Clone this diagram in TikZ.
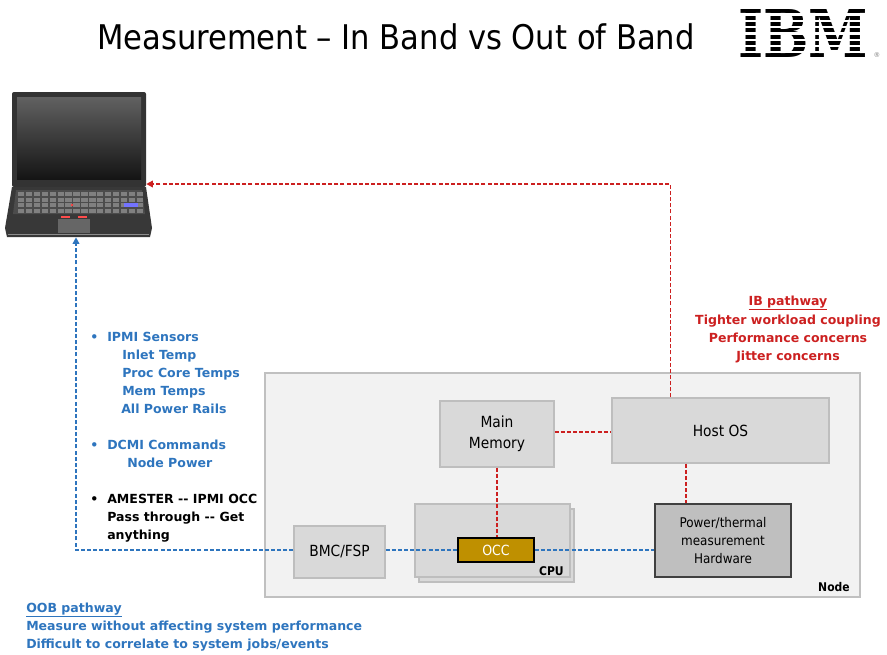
\documentclass[tikz,border=0pt]{standalone}
\usepackage{fontspec}
\setmainfont{DejaVu Sans}
\newfontfamily\narrowfont{DejaVu Sans Condensed}
\newfontfamily\logofont{DejaVu Serif}
\usetikzlibrary{arrows.meta,calc}

\definecolor{oobblue}{RGB}{46,117,190}
\definecolor{ibred}{RGB}{204,32,32}
\definecolor{nodefill}{RGB}{242,242,242}
\definecolor{nodeline}{RGB}{192,192,192}
\definecolor{boxfill}{RGB}{217,217,217}
\definecolor{boxline}{RGB}{190,190,190}
\definecolor{occfill}{RGB}{191,144,0}

\begin{document}
\begin{tikzpicture}[x=0.75pt,y=-0.75pt,
    box/.style={draw=boxline, fill=boxfill, line width=0.9pt, align=center,
      inner sep=0pt, font=\narrowfont\fontsize{11.5}{15.5}\selectfont},
    ibline/.style={draw=ibred, line width=1.1pt, dash pattern=on 3pt off 1.6pt},
    oobline/.style={draw=oobblue, line width=1.1pt, dash pattern=on 3pt off 1.6pt},
    oobtext/.style={text=oobblue, anchor=base west, inner sep=0pt,
      font=\bfseries\fontsize{9.4}{11}\selectfont},
    amtext/.style={oobtext, text=black},
    ibtext/.style={text=ibred, anchor=base, inner sep=0pt,
      font=\bfseries\fontsize{9.4}{11}\selectfont},
    tag/.style={anchor=base east, inner sep=0pt, font=\narrowfont\bfseries\fontsize{9}{11}\selectfont}
  ]
  \useasboundingbox (0,0) rectangle (887,654);

  % title and logo
  \node[anchor=base, inner sep=0pt, font=\narrowfont\fontsize{25.5}{30}\selectfont] (title) at (396,49)
    {Measurement \textendash{} In Band vs Out of Band};
  \node[anchor=south west, inner sep=0pt] (ibm) at (738,58)
    {\resizebox{97.5pt}{36pt}{\logofont\bfseries IBM}};
  \foreach \k in {0,...,6}
    \fill[white] ($(ibm.north west)+(-2,4+6.29*\k)$) rectangle ($(ibm.north east)+(2,6.29+6.29*\k)$);
  \node[inner sep=0pt, text=gray, font=\fontsize{5}{5}\selectfont] (reg) at (877,55) {\textregistered};

  % laptop
  \fill[black!80, rounded corners=1.5pt] (12,92) rectangle (146,187);
  \shade[top color=black!62, bottom color=black!92] (17,97) rectangle (141,179);
  \fill[black!78] (12,187) -- (146,187) -- (152,228) -- (150,237) -- (7,237) -- (5,228) -- cycle;
  \fill[black!70] (16,190) -- (142,190) -- (145,214) -- (13,214) -- cycle;
  \foreach \r in {0,...,3}
    \foreach \c in {0,...,15}
      \fill[black!50] (18+7.9*\c,192+5.5*\r) rectangle ++(6.4,4);
  \fill[blue!55] (124,203) rectangle ++(14,4);
  \fill[black!60] (58,219) rectangle (90,233);
  \fill[red!70] (61,216) rectangle ++(9,1.6);
  \fill[red!70] (78,216) rectangle ++(9,1.6);
  \fill[red!75] (72,205) circle (1.4);
  \draw[black!45, line width=0.6pt] (8,234) -- (149,234);
  \node[inner sep=0pt, minimum width=100.5pt, minimum height=108.75pt] (laptop) at (79,164.5) {};

  % node enclosure and its parts
  \node[draw=nodeline, fill=nodefill, line width=0.9pt, minimum width=446.25pt,
    minimum height=168pt, inner sep=0pt] (node) at (562.5,485) {};
  \node[tag] at (850,591) {Node};
  \node[box, minimum width=85.5pt, minimum height=49.5pt] (mem) at (497,434) {Main\\Memory};
  \node[box, minimum width=162.75pt, minimum height=48.75pt] (host) at (720.5,430.5) {Host OS};
  \node[box, minimum width=68.25pt, minimum height=39pt] (bmc) at (339.5,552) {BMC/FSP};
  \node[box, minimum width=116.25pt, minimum height=54.75pt] (cpuback) at (496.5,545.5) {};
  \node[box, minimum width=116.25pt, minimum height=54.75pt] (cpu) at (492.5,540.5) {};
  \node[tag] at (564,575) {CPU};
  \node[draw=black, fill=occfill, line width=1.1pt, minimum width=57pt, minimum height=18pt,
    inner sep=0pt, text=white, font=\narrowfont\fontsize{10.5}{12}\selectfont] (occ) at (496,550) {OCC};
  \node[draw=black!75, fill=black!25, line width=1.2pt, minimum width=102pt,
    minimum height=54.75pt, inner sep=0pt, align=center,
    font=\narrowfont\fontsize{10}{13.8}\selectfont] (power) at (723,540.5) {Power/thermal\\measurement\\Hardware};

  % in band path
  \coordinate (ibup) at ($(host.north west)!0.272!(host.north east)$);
  \coordinate (ibdown) at ($(host.south west)!0.341!(host.south east)$);
  \draw[ibline] (mem.east |- 0,432) -- (host.west |- 0,432);
  \draw[ibline] (mem.south) -- (mem.south |- occ.north);
  \draw[ibline] (ibdown) -- (ibdown |- power.north);
  \draw[ibline, -{Triangle[length=5pt,width=5pt]}] (ibup) |- (laptop.east |- 0,184);

  % out of band path
  \coordinate (oobcorner) at (76,550);
  \draw[oobline] (bmc.east |- occ.west) -- (occ.west);
  \draw[oobline] (occ.east) -- (occ.east -| power.west);
  \draw[oobline, -{Triangle[length=5pt,width=5pt]}] (bmc.west |- oobcorner) -- (oobcorner) -- (oobcorner |- laptop.south);

  % sensor list
  \node[oobtext] (b1) at (90,341) {•};
  \node[oobtext] (ipmi) at (107,341) {IPMI Sensors};
  \node[oobtext] (inlet) at (122,359) {Inlet Temp};
  \node[oobtext] (core) at (122,377) {Proc Core Temps};
  \node[oobtext] (memt) at (122,395) {Mem Temps};
  \node[oobtext] (rails) at (121,413) {All Power Rails};
  \node[oobtext] (b2) at (90,449) {•};
  \node[oobtext] (dcmi) at (107,449) {DCMI Commands};
  \node[oobtext] (npow) at (127,467) {Node Power};
  \node[amtext] (b3) at (90,503) {•};
  \node[amtext] (amester) at (107,503) {AMESTER {-}{-} IPMI OCC};
  \node[amtext] (pass) at (107,521) {Pass through {-}{-} Get};
  \node[amtext] (any) at (107,539) {anything};

  % in band notes
  \node[ibtext] (ibhead) at (788,305) {\underline{IB pathway}};
  \node[ibtext] (ib1) at (788,324) {Tighter workload coupling};
  \node[ibtext] (ib2) at (788,342) {Performance concerns};
  \node[ibtext] (ib3) at (788,360) {Jitter concerns};

  % out of band notes
  \node[oobtext] (oobhead) at (26,612) {\underline{OOB pathway}};
  \node[oobtext] (oob1) at (26,630) {Measure without affecting system performance};
  \node[oobtext] (oob2) at (26,648) {Difficult to correlate to system jobs/events};
\end{tikzpicture}
\end{document}
